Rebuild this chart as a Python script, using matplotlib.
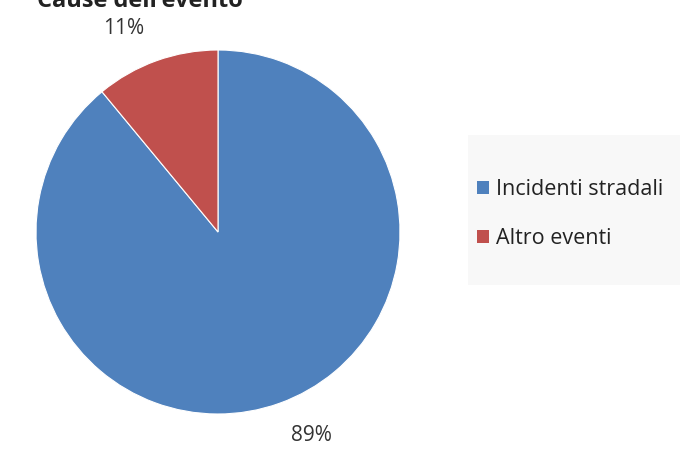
import numpy as np
import matplotlib.pyplot as plt
from matplotlib.patches import Patch, Rectangle

plt.rcParams['font.family'] = ['Open Sans', 'DejaVu Sans']

categories = ['Incidenti stradali', 'Altro eventi']
values = [89, 11]
colors = ['#4F81BD', '#C0504D']
title = "Cause dell'evento"

fig = plt.figure(figsize=(6.8, 4.54), dpi=100)
fig.patch.set_facecolor('white')

# pie centred around (218, 232) px with radius ~182 px
ax = fig.add_axes([36 / 680, 40 / 454, 364 / 680, 364 / 454])
wedges, texts, autotexts = ax.pie(
    values, colors=colors, startangle=90, counterclock=False,
    autopct='%d%%', pctdistance=1.2,
    wedgeprops=dict(edgecolor='white', linewidth=0.8),
    textprops=dict(fontsize=15, color='#333333'))
ax.set_xlim(-1, 1)
ax.set_ylim(-1, 1)
ax.set_aspect('equal')

# the original labels sit a bit counterclockwise of the wedge middles
for w, t in zip(wedges, autotexts):
    ang = np.deg2rad((w.theta1 + w.theta2) / 2 + 5)
    t.set_position((1.23 * np.cos(ang), 1.23 * np.sin(ang)))

# title is cut by the top edge in the original
fig.text(0.055, 1 - 7 / 454, title, fontsize=17, fontweight='bold',
         color='#222222', va='baseline', ha='left')

# legend panel
fig.patches.append(Rectangle((468 / 680, (454 - 285) / 454), 212 / 680, 150 / 454,
                             transform=fig.transFigure, facecolor='#f8f8f8',
                             edgecolor='none', zorder=0))
handles = [Patch(facecolor=c, edgecolor='none') for c in colors]
leg = fig.legend(handles, categories, loc='center left',
                 bbox_to_anchor=(477 / 680, (454 - 214) / 454),
                 frameon=False, fontsize=15.5, handlelength=0.56, handleheight=0.56,
                 handletextpad=0.33, labelspacing=1.3, borderpad=0,
                 borderaxespad=0, labelcolor='#222222')

fig.savefig('out.png', dpi=100)
